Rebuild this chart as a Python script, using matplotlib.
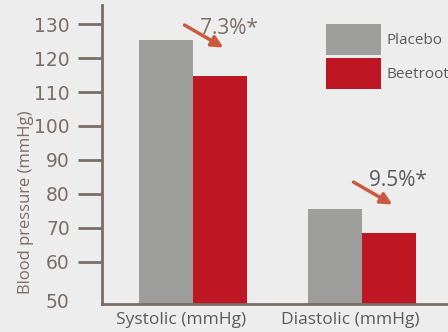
import matplotlib.pyplot as plt
import matplotlib.transforms as mtransforms
import numpy as np

categories = ['Systolic (mmHg)', 'Diastolic (mmHg)']
placebo = [125.3, 75.6]
beetroot = [114.7, 68.5]
changes = ['7.3%*', '9.5%*']
yticks = [50, 60, 70, 80, 90, 100, 110, 120, 130]

bg = '#ededed'
axis_col = '#7b6c66'
grey = '#9d9d9b'
red = '#be1622'
arrow_col = '#c95a41'
text_col = '#5a5a5a'

plt.rcParams['font.family'] = ['Open Sans', 'DejaVu Sans']

fig = plt.figure(figsize=(4.48, 3.32), dpi=100, facecolor=bg)
ax = fig.add_axes([0.227, 0.084, 0.773, 0.901], facecolor=bg)

x = np.arange(len(categories))
w = 0.32
ax.bar(x - w / 2, placebo, w, color=grey, label='Placebo')
ax.bar(x + w / 2, beetroot, w, color=red, label='Beetroot')

ax.set_xlim(-0.54, 1.509)
ax.set_ylim(47.6, 135.6)

for s in ['top', 'right']:
    ax.spines[s].set_visible(False)
for s in ['left', 'bottom']:
    ax.spines[s].set_color(axis_col)
    ax.spines[s].set_linewidth(2)

ax.set_yticks(yticks)
ax.set_yticklabels([str(v) for v in yticks], family='DejaVu Sans')
ax.tick_params(axis='y', length=17, width=2, color=axis_col,
               labelcolor=axis_col, labelsize=13.5, pad=6)
# no tick mark at 50, label sits a bit lower
ax.yaxis.get_major_ticks()[0].tick1line.set_visible(False)
ax.get_yticklabels()[0].set_transform(
    ax.get_yticklabels()[0].get_transform()
    + mtransforms.ScaledTranslation(0, -0.05, fig.dpi_scale_trans))

ax.set_xticks(x - 0.07)
ax.set_xticklabels(categories)
ax.tick_params(axis='x', length=0, labelcolor=text_col, labelsize=12.5, pad=6)

ax.set_ylabel('Blood pressure (mmHg)', color=axis_col, fontsize=12)
ax.yaxis.set_label_coords(-0.196, 0.341)

# reduction arrows with percentages
label_dy = [3.9, 5.5]
for i, (b, txt) in enumerate(zip(beetroot, changes)):
    tip = b + 8.4
    ax.annotate('', xy=(i + 0.18, tip), xytext=(i - 0.05, tip + 6.6),
                arrowprops=dict(arrowstyle='-|>', color=arrow_col, lw=2.5,
                                mutation_scale=17, shrinkA=0, shrinkB=0))
    ax.text(i + 0.21, tip + label_dy[i], txt,
            color=axis_col if i == 0 else text_col,
            fontsize=15, ha='center', va='baseline')

leg = ax.legend(loc='upper left', bbox_to_anchor=(0.648, 0.936), frameon=False,
                handlelength=3.6, handleheight=2.74, handletextpad=0.33,
                labelspacing=0.2, fontsize=11, borderaxespad=0,
                borderpad=0)
for t in leg.get_texts():
    t.set_color(text_col)

fig.savefig('out.png', dpi=100, facecolor=bg)
